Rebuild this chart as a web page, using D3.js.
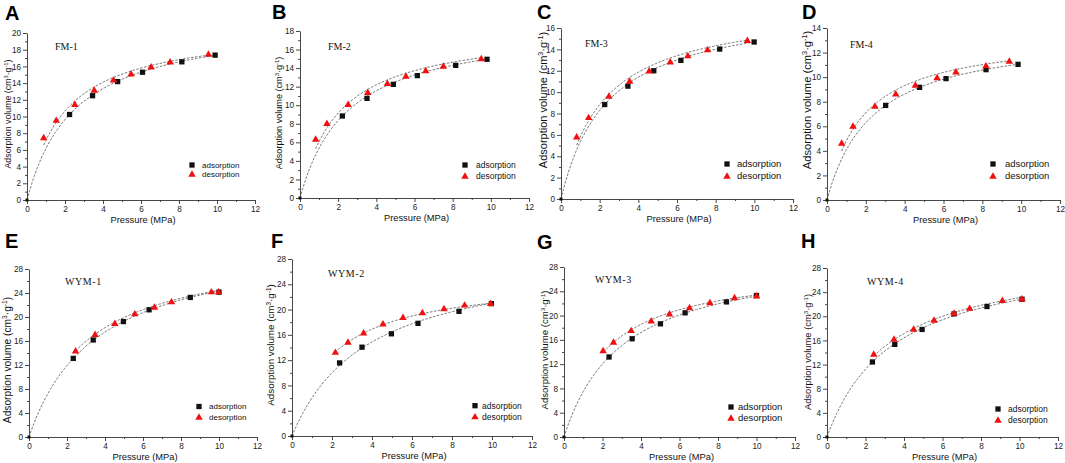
<!DOCTYPE html>
<html><head><meta charset="utf-8">
<script src="https://cdn.jsdelivr.net/npm/d3@7"></script>
<style>body{margin:0;background:#fff}svg{display:block}</style>
</head><body><svg id="c" width="1065" height="463"></svg>
<script>
// ---------- data ----------
const panelLetters = ["A","B","C","D","E","F","G","H"];
const sampleNames = ["FM-1","FM-2","FM-3","FM-4","WYM-1","WYM-2","WYM-3","WYM-4"];
const seriesNames = ["adsorption","desorption"];
const xTickValues = [0,2,4,6,8,10,12];
const yTickMax = [20,18,16,14,28,28,28,28];
const yTickStep = [2,2,2,2,4,4,4,4];

const adsorptionP = [
 [0,2.24,3.45,4.77,6.08,8.15,9.9],
 [0,2.22,3.51,4.89,6.15,8.16,9.8],
 [0,2.26,3.46,4.8,6.2,8.21,9.99],
 [0,3.02,4.77,6.13,8.19,9.84],
 [0,2.33,3.38,4.97,6.32,8.49,10.0],
 [0,2.38,3.5,4.97,6.3,8.35,9.97],
 [0,2.34,3.54,5.01,6.29,8.44,10.0],
 [0,2.36,3.52,4.94,6.6,8.31,10.13]
];
const adsorptionV = [
 [0,10.24,12.49,14.18,15.3,16.55,17.35],
 [0,8.84,10.74,12.25,13.19,14.3,14.95],
 [0,8.84,10.56,12.0,12.97,14.03,14.69],
 [0,7.7,9.17,9.88,10.61,11.04],
 [0,13.1,16.17,19.24,21.2,23.26,24.15],
 [0,11.56,14.05,16.17,17.82,19.72,20.94],
 [0,13.18,16.18,18.64,20.45,22.25,23.3],
 [0,12.43,15.35,17.82,20.4,21.62,22.83]
];
const desorptionP = [
 [0.88,1.54,2.52,3.54,4.55,5.48,6.53,7.53,9.55],
 [0.82,1.41,2.52,3.55,4.58,5.55,6.59,7.51,9.5],
 [0.81,1.43,2.48,3.55,4.56,5.65,6.56,7.58,9.64],
 [0.755,1.34,2.47,3.54,4.55,5.67,6.64,8.19,9.39],
 [2.45,3.48,4.52,5.57,6.6,7.5,9.6,9.98],
 [2.17,2.8,3.58,4.55,5.55,6.52,7.6,8.63,9.93],
 [2.03,2.57,3.49,4.53,5.48,6.52,7.58,8.86,10.0],
 [2.43,3.48,4.5,5.56,6.6,7.41,9.11,10.13]
];
const desorptionV = [
 [7.47,9.56,11.45,13.17,14.38,15.1,15.94,16.55,17.47],
 [6.36,8.05,10.1,11.39,12.36,13.15,13.73,14.23,15.02],
 [5.81,7.63,9.63,11.03,12.0,12.84,13.41,13.97,14.84],
 [4.64,6.02,7.65,8.65,9.36,9.96,10.44,10.93,11.31],
 [14.37,17.1,18.96,20.55,21.66,22.55,24.22,24.22],
 [13.26,14.85,16.33,17.76,18.77,19.51,20.15,20.73,21.0],
 [14.22,15.64,17.55,19.14,20.28,21.32,22.14,22.96,23.24],
 [13.75,16.23,17.88,19.36,20.52,21.34,22.66,22.88]
];
// Langmuir fit parameters (V = VL*P/(PL+P))
const adsorptionFitVL = [21.72,18.75,18.21,13.67,32.92,29.0,30.23,30.59];
const adsorptionFitPL = [2.511,2.488,2.396,2.34,3.525,3.8,3.027,3.448];
const desorptionFitVL = [20.8,18.3,18.1,13.5,31.65,25.1,28.3,30.0];
const desorptionFitPL = [1.9,2.0,2.1,1.8,2.947,1.937,2.1,3.0];

// ---------- layout (positions / sizes) ----------
const frames = [
 {l:27,r:255,t:33,b:200},{l:300,r:529,t:31,b:198},{l:561,r:793,t:28,b:199},{l:827,r:1060,t:28,b:200},
 {l:29,r:257,t:269,b:437},{l:292,r:532,t:259,b:436},{l:564,r:795,t:267,b:437},{l:827,r:1058,t:268,b:437}];
const letterPos = [[5,20],[272,19],[537,19],[802,19],[5,248],[271,248],[537,249],[801,248]];
const namePos = [[55,50],[328,50],[585,47],[850,48],[65,285],[328,277],[595,283],[867,285]];
const legendLayout = [
 {mx:192,tx:202,y1:165,y2:174,fs:8},{mx:465,tx:476,y1:165,y2:176,fs:8.5},
 {mx:727,tx:737,y1:164,y2:176,fs:9.5},{mx:993,tx:1005,y1:164,y2:176,fs:9.5},
 {mx:199,tx:209,y1:406.5,y2:417,fs:8},{mx:475,tx:482,y1:405.7,y2:416.7,fs:8.5},
 {mx:731,tx:738,y1:407,y2:418,fs:9.5},{mx:998,tx:1008,y1:409,y2:420,fs:8.5}];
const yTitleLayout = [[8,114,8.8],[279,113,9.1],[543,100,11],[807,100,11.2],[7,360,10.2],[271,345,9.8],[545,350,9.6],[808,352,9.4]];

const FONT = "'Liberation Sans', Arial, Helvetica, sans-serif";
const SERIF = "'Liberation Serif', 'Times New Roman', serif";
const svg = d3.select("#c");

function drawPanel(i){
  const f = frames[i];
  const x = d3.scaleLinear().domain([0,12]).range([f.l,f.r]);
  const y = d3.scaleLinear().domain([0,yTickMax[i]]).range([f.b,f.t]);
  const yTicks = d3.range(0, yTickMax[i]+1e-6, yTickStep[i]);
  const yMinor = d3.range(yTickStep[i]/2, yTickMax[i], yTickStep[i]);
  const xMinor = d3.range(1,12,2);
  const g = svg.append("g");

  // minor ticks
  g.append("g").attr("transform",`translate(0,${f.b})`)
    .call(d3.axisBottom(x).tickValues(xMinor).tickSize(2).tickFormat(""))
    .call(a=>a.select(".domain").remove());
  g.append("g").attr("transform",`translate(${f.l},0)`)
    .call(d3.axisLeft(y).tickValues(yMinor).tickSize(2).tickFormat(""))
    .call(a=>a.select(".domain").remove());
  // major axes
  const xa = g.append("g").attr("transform",`translate(0,${f.b})`)
    .call(d3.axisBottom(x).tickValues(xTickValues).tickSize(4).tickSizeOuter(0).tickPadding(2));
  const ya = g.append("g").attr("transform",`translate(${f.l},0)`)
    .call(d3.axisLeft(y).tickValues(yTicks).tickSize(4).tickSizeOuter(0).tickPadding(2));
  g.selectAll(".tick line, .domain").attr("stroke","#333").attr("stroke-width",0.9);
  [xa,ya].forEach(a=>a.selectAll("text").attr("font-size",8.2).attr("font-family",FONT).attr("fill","#222"));

  // fit curves
  const line = d3.line().x(d=>x(d[0])).y(d=>y(d[1]));
  function fitPts(p0,p1,VL,PL){
    const n=80; return d3.range(n+1).map(k=>{const p=p0+(p1-p0)*k/n; return [p, VL*p/(PL+p)];});
  }
  const aP = adsorptionP[i], dP = desorptionP[i];
  g.append("path").attr("d", line(fitPts(0, aP[aP.length-1], adsorptionFitVL[i], adsorptionFitPL[i])))
    .attr("fill","none").attr("stroke","#666").attr("stroke-width",0.9).attr("stroke-dasharray","2.5,1.5");
  g.append("path").attr("d", line(fitPts(dP[0], dP[dP.length-1], desorptionFitVL[i], desorptionFitPL[i])))
    .attr("fill","none").attr("stroke","#666").attr("stroke-width",0.9).attr("stroke-dasharray","2.5,1.5");

  const sq = d3.symbol(d3.symbolSquare, 28)();
  const sqSmall = d3.symbol(d3.symbolSquare, 9)();
  const tri = d3.symbol(d3.symbolTriangle, 24)();
  g.selectAll(".ads").data(aP.map((p,k)=>[p, adsorptionV[i][k]])).join("path")
    .attr("d",d=>d[0]===0?sqSmall:sq).attr("transform",d=>`translate(${x(d[0])},${y(d[1])})`).attr("fill","#111");
  g.selectAll(".des").data(dP.map((p,k)=>[p, desorptionV[i][k]])).join("path")
    .attr("d",tri).attr("transform",d=>`translate(${x(d[0])},${y(d[1])+0.5})`).attr("fill","#f01010");

  // legend
  const L = legendLayout[i];
  g.append("path").attr("d",sq).attr("transform",`translate(${L.mx},${L.y1})`).attr("fill","#111");
  g.append("path").attr("d",tri).attr("transform",`translate(${L.mx},${L.y2+0.5})`).attr("fill","#f01010");
  [L.y1,L.y2].forEach((yy,k)=>g.append("text").attr("x",L.tx).attr("y",yy).attr("dy","0.35em")
    .attr("font-family",FONT).attr("font-size",L.fs).attr("fill","#111").text(seriesNames[k]));

  // sample name
  g.append("text").attr("x",namePos[i][0]).attr("y",namePos[i][1]).attr("font-family",SERIF)
    .attr("font-size",10).attr("fill","#111").attr("letter-spacing",i>=4?0.6:0).text(sampleNames[i]);

  // panel letter
  g.append("text").attr("x",letterPos[i][0]).attr("y",letterPos[i][1]).attr("font-family",FONT)
    .attr("font-weight","bold").attr("font-size",20).attr("fill","#000").text(panelLetters[i]);

  // axis titles
  g.append("text").attr("x",(f.l+f.r)/2+2).attr("y",f.b+23).attr("text-anchor","middle")
    .attr("font-family",FONT).attr("font-size",9.3).attr("fill","#111").text("Pressure (MPa)");
  const T = yTitleLayout[i];
  const yt = g.append("text").attr("transform",`translate(${T[0]},${T[1]}) rotate(-90)`)
    .attr("text-anchor","middle").attr("dy","0.35em").attr("font-family",FONT)
    .attr("font-size",T[2]).attr("fill","#111");
  yt.append("tspan").text("Adsorption volume (cm");
  yt.append("tspan").attr("font-size",T[2]*0.65).attr("dy","-0.6em").text("3");
  yt.append("tspan").attr("dy","0.39em").text("·g");
  yt.append("tspan").attr("font-size",T[2]*0.65).attr("dy","-0.6em").text("-1");
  yt.append("tspan").attr("dy","0.39em").text(")");
}
for(let i=0;i<8;i++) drawPanel(i);
</script></body></html>
